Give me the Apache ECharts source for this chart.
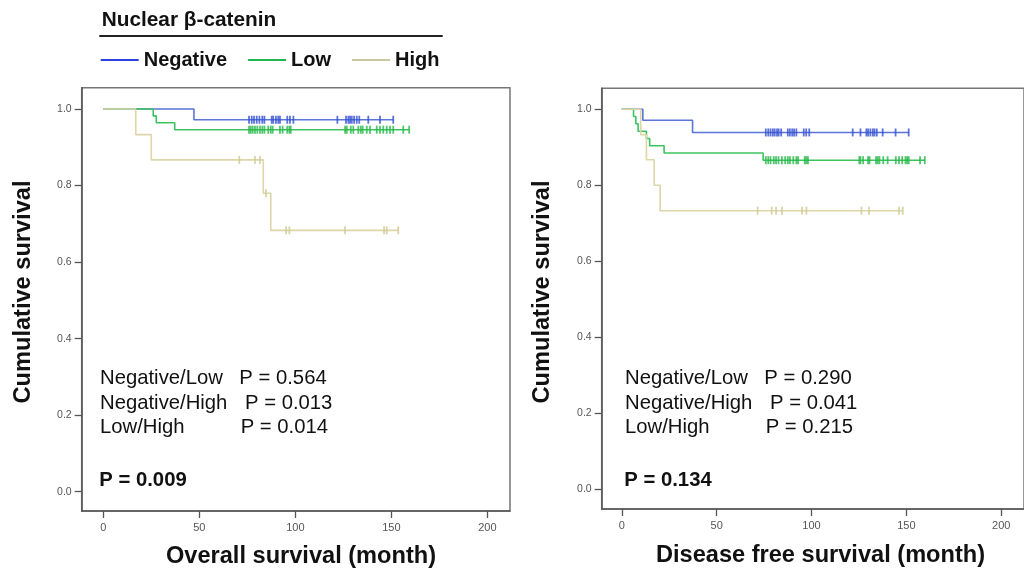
<!DOCTYPE html>
<html>
<head>
<meta charset="utf-8">
<script src="https://cdn.jsdelivr.net/npm/echarts@6/dist/echarts.min.js"></script>
<style>
html,body{margin:0;padding:0;background:#fff;}
#c{width:1024px;height:571px;}
</style>
</head>
<body>
<div id="c"></div>
<script>
// ---------- data ----------
var groupNames = ['Negative', 'Low', 'High'];
var xTicks = [0, 50, 100, 150, 200];
var yTicks = [0, 0.2, 0.4, 0.6, 0.8, 1.0];

// Overall survival
var osNegEventT = [47.2];
var osNegEventS = [0.972];
var osNegCens = [75.9, 77.3, 78.5, 79.9, 81.3, 82.8, 83.9, 87.7, 88.5, 89.9, 91.1, 92.0, 95.8, 97.2, 99.0, 121.9, 126.4, 127.6, 128.5, 129.4, 130.6, 132.0, 133.3, 138.0, 144.1, 151.0];

var osLowEventT = [26.0, 27.6, 37.2];
var osLowEventS = [0.982, 0.964, 0.946];
var osLowCens = [75.9, 76.8, 77.8, 79.0, 80.2, 81.6, 82.8, 83.9, 85.9, 87.2, 88.2, 92.0, 93.4, 95.8, 96.9, 97.6, 125.9, 126.8, 128.9, 130.2, 132.8, 134.1, 135.1, 137.2, 138.9, 142.4, 144.1, 145.8, 147.6, 149.3, 151.0, 156.2, 159.3];

var osHighEventT = [16.9, 25.0, 83.3, 87.2];
var osHighEventS = [0.933, 0.867, 0.780, 0.683];
var osHighCens = [70.8, 79.0, 81.6, 84.7, 95.2, 96.9, 125.9, 146.2, 147.6, 153.6];

// Disease free survival
var dfsNegEventT = [11.1, 37.3];
var dfsNegEventS = [0.971, 0.939];
var dfsNegCens = [75.9, 77.2, 78.4, 79.6, 80.6, 81.8, 82.7, 84.0, 87.5, 88.6, 89.8, 90.8, 92.0, 95.9, 97.2, 98.8, 121.7, 125.8, 128.9, 129.8, 131.0, 132.3, 133.2, 134.4, 137.5, 144.3, 151.2];

var dfsLowEventT = [6.2, 7.4, 8.6, 13.0, 14.7, 22.3, 74.5];
var dfsLowEventS = [0.981, 0.962, 0.942, 0.923, 0.904, 0.885, 0.866];
var dfsLowCens = [75.9, 77.2, 78.4, 80.1, 81.3, 82.6, 84.4, 86.1, 87.5, 88.6, 90.4, 92.0, 92.9, 96.4, 97.2, 98.1, 125.2, 125.8, 127.2, 129.8, 130.6, 134.0, 134.9, 135.8, 137.8, 140.1, 144.4, 146.1, 147.8, 149.5, 150.4, 151.2, 157.2, 159.7];

var dfsHighEventT = [10.0, 13.0, 17.1, 20.2];
var dfsHighEventS = [0.933, 0.867, 0.800, 0.733];
var dfsHighCens = [71.6, 79.0, 81.3, 84.4, 95.0, 97.3, 126.3, 130.3, 146.1, 148.1];

// annotation texts
var legendTitle = 'Nuclear β-catenin';
var osXTitle = 'Overall survival (month)';
var dfsXTitle = 'Disease free survival (month)';
var yTitle = 'Cumulative survival';
var pairLabels = ['Negative/Low', 'Negative/High', 'Low/High'];
var osPairP = ['P = 0.564', 'P = 0.013', 'P = 0.014'];
var dfsPairP = ['P = 0.290', 'P = 0.041', 'P = 0.215'];
var osOverallP = 'P = 0.009';
var dfsOverallP = 'P = 0.134';

// ---------- build ----------
var lineColors = ['#5a74d8', '#3cc45e', '#dcd6a8'];
var markColors = ['#3450d2', '#25b847', '#d0c992'];
var legendColors = ['#2c3fe0', '#1fb84d', '#cbc6a4'];
var FONT = '"Liberation Sans", Arial, sans-serif';

function survAt(t, T, S) {
  var s = 1;
  for (var i = 0; i < T.length; i++) { if (T[i] <= t) s = S[i]; }
  return s;
}
function curve(T, S, C) {
  var pts = [[0, 1]];
  for (var i = 0; i < T.length; i++) pts.push([T[i], S[i]]);
  var last = Math.max(T[T.length - 1], C[C.length - 1]);
  pts.push([last, S[S.length - 1]]);
  return pts;
}
function cens(T, S, C) {
  return C.map(function (t) { return [t, survAt(t, T, S)]; });
}

var groups = [
  [[osNegEventT, osNegEventS, osNegCens], [osLowEventT, osLowEventS, osLowCens], [osHighEventT, osHighEventS, osHighCens]],
  [[dfsNegEventT, dfsNegEventS, dfsNegCens], [dfsLowEventT, dfsLowEventS, dfsLowCens], [dfsHighEventT, dfsHighEventS, dfsHighCens]]
];

var series = [];
for (var g = 0; g < 2; g++) {
  for (var k = 0; k < 3; k++) {
    var d = groups[g][k];
    series.push({
      type: 'line', name: groupNames[k], xAxisIndex: g, yAxisIndex: g,
      step: 'end', showSymbol: false, symbol: 'none', silent: true,
      color: legendColors[k],
      lineStyle: { color: lineColors[k], width: 1.6 },
      data: curve(d[0], d[1], d[2]), z: 2
    });
    series.push({
      type: 'scatter', name: groupNames[k] + ' censored', xAxisIndex: g, yAxisIndex: g,
      symbol: 'rect', symbolSize: [1.8, 8], silent: true,
      itemStyle: { color: markColors[k] },
      data: cens(d[0], d[1], d[2]), z: 3
    });
  }
}

function xAxis(idx, min, max) {
  return {
    type: 'value', gridIndex: idx, min: min, max: max,
    splitLine: { show: false },
    axisLine: { show: true, onZero: false, lineStyle: { color: '#555', width: 1.5 } },
    axisTick: { show: true, length: 7, customValues: xTicks, lineStyle: { color: '#555', width: 1.3 } },
    axisLabel: { customValues: xTicks, margin: 11, fontSize: 11, color: '#555', fontFamily: FONT }
  };
}
function yAxis(idx, min, max) {
  return {
    type: 'value', gridIndex: idx, min: min, max: max,
    splitLine: { show: false },
    axisLine: { show: true, onZero: false, lineStyle: { color: '#555', width: 1.5 } },
    axisTick: { show: true, length: 7, customValues: yTicks, lineStyle: { color: '#555', width: 1.3 } },
    axisLabel: { customValues: yTicks, margin: 10, fontSize: 10.5, color: '#555', fontFamily: FONT,
      formatter: function (v) { return v.toFixed(1); } }
  };
}

var graphics = [];
function txt(x, y, s, size, weight, align, rot) {
  graphics.push({
    type: 'text', x: x, y: y, rotation: rot || 0, silent: true,
    style: { text: s, font: weight + ' ' + size + 'px ' + FONT, fill: '#111',
      textAlign: align || 'left', textVerticalAlign: 'middle' }
  });
}
txt(101.7, 20, legendTitle, 20.8, 'bold');
graphics.push({ type: 'line', silent: true, shape: { x1: 99.3, y1: 36, x2: 442.7, y2: 36 },
  style: { stroke: '#222', lineWidth: 2 } });

txt(23, 292, yTitle, 23.6, 'bold', 'center', Math.PI / 2);
txt(542, 292, yTitle, 23.6, 'bold', 'center', Math.PI / 2);
txt(301, 556, osXTitle, 23.6, 'bold', 'center');
txt(820.5, 555, dfsXTitle, 23.6, 'bold', 'center');

var rowY = [378.3, 403.3, 427.8];
var osPx = [239.3, 245, 240.7];
var dfsPx = [764.3, 770, 765.7];
for (var i = 0; i < 3; i++) {
  txt(100, rowY[i], pairLabels[i], 20.3, 'normal');
  txt(osPx[i], rowY[i], osPairP[i], 20.3, 'normal');
  txt(625, rowY[i], pairLabels[i], 20.3, 'normal');
  txt(dfsPx[i], rowY[i], dfsPairP[i], 20.3, 'normal');
}
txt(99.3, 480, osOverallP, 20.3, 'bold');
txt(624.3, 480, dfsOverallP, 20.3, 'bold');

var chart = echarts.init(document.getElementById('c'), null, { renderer: 'canvas' });
chart.setOption({
  animation: false,
  backgroundColor: '#fff',
  legend: {
    data: groupNames, left: 100.7, top: 49, padding: 0,
    icon: 'rect', itemWidth: 38, itemHeight: 2, itemGap: 21,
    selectedMode: false,
    textStyle: { fontSize: 20, fontWeight: 'bold', color: '#111', fontFamily: FONT, lineHeight: 22 }
  },
  grid: [
    { left: 81.7, top: 87.7, width: 428.3, height: 423.3, show: true, borderColor: '#777', borderWidth: 1.5, containLabel: false },
    { left: 601.7, top: 88.3, width: 433.3, height: 420.7, show: true, borderColor: '#777', borderWidth: 1.5, containLabel: false }
  ],
  xAxis: [xAxis(0, -11.25, 211.8), xAxis(1, -10.58, 211.97)],
  yAxis: [yAxis(0, -0.0504, 1.0557), yAxis(1, -0.0527, 1.0553)],
  series: series,
  graphic: graphics
});
</script>
</body>
</html>
